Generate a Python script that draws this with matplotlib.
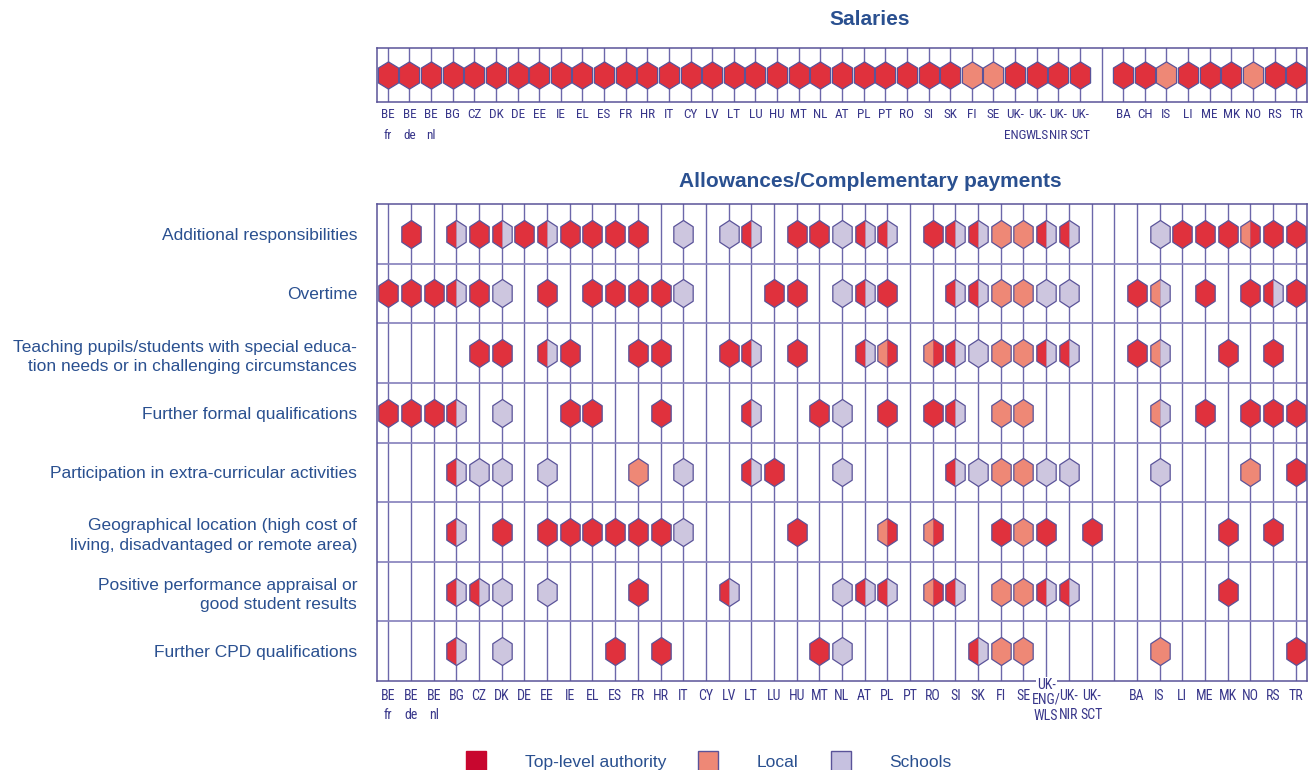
import matplotlib
matplotlib.use('Agg')
import matplotlib.pyplot as plt
from matplotlib.path import Path
from matplotlib.patches import Patch
from matplotlib import font_manager

# ---------------- data ----------------
upper_countries = ['BE\nfr', 'BE\nde', 'BE\nnl', 'BG', 'CZ', 'DK', 'DE', 'EE', 'IE', 'EL', 'ES',
                   'FR', 'HR', 'IT', 'CY', 'LV', 'LT', 'LU', 'HU', 'MT', 'NL', 'AT', 'PL', 'PT',
                   'RO', 'SI', 'SK', 'FI', 'SE', 'UK-\nENG', 'UK-\nWLS', 'UK-\nNIR', 'UK-\nSCT',
                   'BA', 'CH', 'IS', 'LI', 'ME', 'MK', 'NO', 'RS', 'TR']
upper_n_eu = 33

salaries = ['T', 'T', 'T', 'T', 'T', 'T', 'T', 'T', 'T', 'T', 'T',
            'T', 'T', 'T', 'T', 'T', 'T', 'T', 'T', 'T', 'T', 'T', 'T', 'T',
            'T', 'T', 'T', 'L', 'L', 'T', 'T', 'T', 'T',
            'T', 'T', 'L', 'T', 'T', 'T', 'L', 'T', 'T']

lower_countries = ['BE\nfr', 'BE\nde', 'BE\nnl', 'BG', 'CZ', 'DK', 'DE', 'EE', 'IE', 'EL', 'ES',
                   'FR', 'HR', 'IT', 'CY', 'LV', 'LT', 'LU', 'HU', 'MT', 'NL', 'AT', 'PL', 'PT',
                   'RO', 'SI', 'SK', 'FI', 'SE', 'UK-\nENG/\nWLS', 'UK-\nNIR', 'UK-\nSCT',
                   'BA', 'IS', 'LI', 'ME', 'MK', 'NO', 'RS', 'TR']
lower_n_eu = 32

row_labels = ['Additional responsibilities',
              'Overtime',
              'Teaching pupils/students with special educa-\ntion needs or in challenging circumstances',
              'Further formal qualifications',
              'Participation in extra-curricular activities',
              'Geographical location (high cost of\nliving, disadvantaged or remote area)',
              'Positive performance appraisal or\ngood student results',
              'Further CPD qualifications']

# codes: T = top-level, L = local, S = schools; two letters = split (left, right)
additional = ['', 'T', '', 'TS', 'T', 'TS', 'T', 'TS', 'T', 'T', 'T', 'T', '', 'S', '', 'S',
              'TS', '', 'T', 'T', 'S', 'TS', 'TS', '', 'T', 'TS', 'TS', 'L', 'L', 'TS', 'TS', '',
              '', 'S', 'T', 'T', 'T', 'LT', 'T', 'T']
overtime = ['T', 'T', 'T', 'TS', 'T', 'S', '', 'T', '', 'T', 'T', 'T', 'T', 'S', '', '',
            '', 'T', 'T', '', 'S', 'TS', 'T', '', '', 'TS', 'TS', 'L', 'L', 'S', 'S', '',
            'T', 'LS', '', 'T', '', 'T', 'TS', 'T']
special_needs = ['', '', '', '', 'T', 'T', '', 'TS', 'T', '', '', 'T', 'T', '', '', 'T',
                 'TS', '', 'T', '', '', 'TS', 'LT', '', 'LT', 'TS', 'S', 'L', 'L', 'TS', 'TS', '',
                 'T', 'LS', '', '', 'T', '', 'T', '']
formal_qual = ['T', 'T', 'T', 'TS', '', 'S', '', '', 'T', 'T', '', '', 'T', '', '', '',
               'TS', '', '', 'T', 'S', '', 'T', '', 'T', 'TS', '', 'L', 'L', '', '', '',
               '', 'LS', '', 'T', '', 'T', 'T', 'T']
extra_curr = ['', '', '', 'TS', 'S', 'S', '', 'S', '', '', '', 'L', '', 'S', '', '',
              'TS', 'T', '', '', 'S', '', '', '', '', 'TS', 'S', 'L', 'L', 'S', 'S', '',
              '', 'S', '', '', '', 'L', '', 'T']
geographical = ['', '', '', 'TS', '', 'T', '', 'T', 'T', 'T', 'T', 'T', 'T', 'S', '', '',
                '', '', 'T', '', '', '', 'LT', '', 'LT', '', '', 'T', 'L', 'T', '', 'T',
                '', '', '', '', 'T', '', 'T', '']
performance = ['', '', '', 'TS', 'TS', 'S', '', 'S', '', '', '', 'T', '', '', '', 'TS',
               '', '', '', '', 'S', 'TS', 'TS', '', 'LT', 'TS', '', 'L', 'L', 'TS', 'TS', '',
               '', '', '', '', 'T', '', '', '']
cpd_qual = ['', '', '', 'TS', '', 'S', '', '', '', '', 'T', '', 'T', '', '', '',
            '', '', '', 'T', 'S', '', '', '', '', '', 'TS', 'L', 'L', '', '', '',
            '', 'L', '', '', '', '', '', 'T']
rows = [additional, overtime, special_needs, formal_qual, extra_curr,
        geographical, performance, cpd_qual]

legend_labels = ['Top-level authority', 'Local', 'Schools']

# ---------------- style ----------------
RED = '#E0313D'
SALMON = '#EE8876'
LAV = '#CDC6DF'
EDGE = '#5A5399'
GRID = '#6C67AA'
RED_LEG = '#C8072F'
LAV_LEG = '#C6C1E0'
TXT = '#2A5090'
CTXT = '#38368A'
FILL = {'T': RED, 'L': SALMON, 'S': LAV}

names = {f.name for f in font_manager.fontManager.ttflist}
COND = next((n for n in ['Liberation Sans Narrow', 'Roboto Condensed', 'Open Sans Condensed',
                         'DejaVu Sans Condensed'] if n in names), 'Liberation Sans')

plt.rcParams['font.family'] = ['Liberation Sans', 'DejaVu Sans']


def hex_paths(a, s=0.55):
    full = Path([(0, 1), (a, s), (a, -s), (0, -1), (-a, -s), (-a, s), (0, 1)],
                [Path.MOVETO] + [Path.LINETO] * 5 + [Path.CLOSEPOLY])
    left = Path([(0, 1), (-a, s), (-a, -s), (0, -1), (0, 1)],
                [Path.MOVETO] + [Path.LINETO] * 3 + [Path.CLOSEPOLY])
    right = Path([(0, 1), (a, s), (a, -s), (0, -1), (0, 1)],
                 [Path.MOVETO] + [Path.LINETO] * 3 + [Path.CLOSEPOLY])
    return full, left, right


def draw_hex(ax, x, y, code, ms, paths):
    full, left, right = paths
    if not code:
        return
    if len(code) == 1:
        ax.plot([x], [y], ls='none', marker=full, ms=ms, mfc=FILL[code], mec=EDGE,
                mew=0.9, zorder=4)
    else:
        ax.plot([x], [y], ls='none', marker=left, ms=ms, mfc=FILL[code[0]], mec='none',
                mew=0, zorder=3)
        ax.plot([x], [y], ls='none', marker=right, ms=ms, mfc=FILL[code[1]], mec='none',
                mew=0, zorder=3)
        ax.plot([x], [y], ls='none', marker=full, ms=ms, mfc='none', mec=EDGE,
                mew=0.9, zorder=4)


W, H = 1310, 770
fig = plt.figure(figsize=(W / 100, H / 100), dpi=100)

L, R = 377, 1307
# ---------------- upper: salaries ----------------
axu = fig.add_axes([L / W, 1 - 102 / H, (R - L) / W, 54 / H])
n_up = len(upper_countries) + 1
axu.set_xlim(-0.5, n_up - 0.5)
axu.set_ylim(0, 1)
up_pos = [i if i < upper_n_eu else i + 1 for i in range(len(upper_countries))]
for s in range(n_up):
    axu.axvline(s, color=GRID, lw=1.0, zorder=1)
up_paths = hex_paths(0.74)
for x, code in zip(up_pos, salaries):
    draw_hex(axu, x, 0.5, code, 19.6, up_paths)
axu.set_yticks([])
axu.set_xticks(up_pos)
axu.set_xticklabels(upper_countries, fontfamily=COND, fontsize=9.5, color=CTXT,
                    linespacing=1.75)
axu.tick_params(axis='x', length=0, pad=4.5)
for sp in axu.spines.values():
    sp.set_color(EDGE)
    sp.set_linewidth(1.1)
axu.text(0.53, 1.52, 'Salaries', transform=axu.transAxes, ha='center', va='center',
         fontsize=15, fontweight='bold', color=TXT)

# ---------------- lower: allowances ----------------
axl = fig.add_axes([L / W, 1 - 681 / H, (R - L) / W, 477 / H])
n_lo = len(lower_countries) + 1
axl.set_xlim(-0.5, n_lo - 0.5)
axl.set_ylim(len(rows), 0)
lo_pos = [i if i < lower_n_eu else i + 1 for i in range(len(lower_countries))]
for s in range(n_lo):
    axl.axvline(s, color=GRID, lw=1.0, zorder=1)
for r in range(1, len(rows)):
    axl.axhline(r, color='#8E89C0', lw=1.3, zorder=1)
lo_paths = hex_paths(0.69)
for r, vals in enumerate(rows):
    for x, code in zip(lo_pos, vals):
        draw_hex(axl, x, r + 0.5, code, 20.2, lo_paths)

axl.set_yticks([r + 0.5 for r in range(len(rows))])
axl.set_yticklabels(row_labels, fontsize=12.5, color=TXT, linespacing=1.35)
axl.tick_params(axis='y', length=0, pad=14.4)
for t in axl.get_yticklabels():
    t.set_multialignment('right')

special = 'UK-\nENG/\nWLS'
axl.set_xticks(lo_pos)
axl.set_xticklabels(['' if c == special else c for c in lower_countries],
                    fontfamily=COND, fontsize=10, color=CTXT, linespacing=1.5)
axl.tick_params(axis='x', length=0, pad=5.5)
xi = lo_pos[lower_countries.index(special)]
first, rest = special.split('\n', 1)
axl.annotate(first, xy=(xi, 0), xycoords=('data', 'axes fraction'),
             xytext=(0, 2), textcoords='offset points', ha='center', va='top',
             fontfamily=COND, fontsize=10, color=CTXT,
             bbox=dict(fc='white', ec='none', pad=0.8), zorder=6)
axl.annotate(rest, xy=(xi, 0), xycoords=('data', 'axes fraction'),
             xytext=(0, -8.5), textcoords='offset points', ha='center', va='top',
             fontfamily=COND, fontsize=10, color=CTXT, linespacing=1.2, zorder=6)
for sp in axl.spines.values():
    sp.set_color(EDGE)
    sp.set_linewidth(1.1)
axl.text(0.53, 1.048, 'Allowances/Complementary payments', transform=axl.transAxes,
         ha='center', va='center', fontsize=15, fontweight='bold', color=TXT)

# ---------------- legend ----------------
handles = [Patch(fc=RED_LEG, ec=RED_LEG, lw=1.0),
           Patch(fc=SALMON, ec=EDGE, lw=1.0),
           Patch(fc=LAV_LEG, ec=EDGE, lw=1.0)]
fig.legend(handles, legend_labels, ncol=3, loc='center',
           bbox_to_anchor=(709 / W, 1 - 761 / H), frameon=False, fontsize=12.5,
           handlelength=1.15, handleheight=1.35, handletextpad=2.24, columnspacing=1.84,
           labelcolor=TXT, borderaxespad=0, borderpad=0)

fig.savefig('out.png', dpi=100)
